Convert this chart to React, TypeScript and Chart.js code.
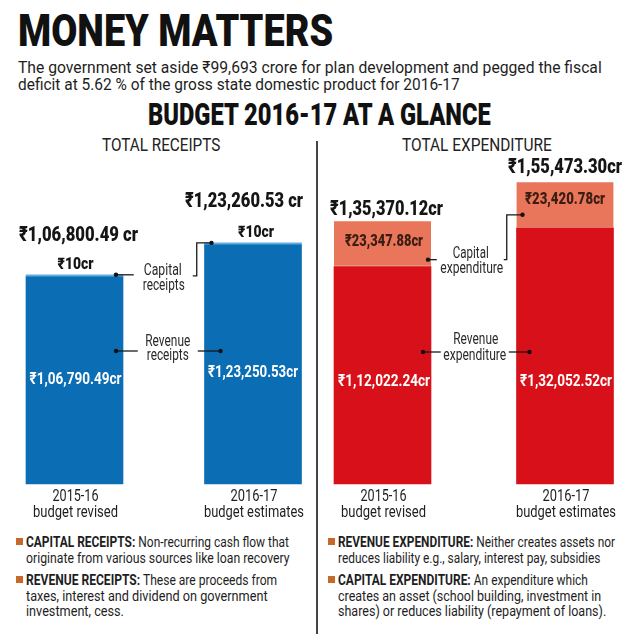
import React, { useEffect, useLayoutEffect, useRef, useState } from 'react';
import { Chart, registerables } from 'chart.js';

Chart.register(...registerables);

// ---------- data ----------
const periodYears = ['2015-16', '2016-17'];
const periodStages = ['budget revised', 'budget estimates'];
const revenueReceipts = [106790.49, 123250.53];
const capitalReceipts = [10, 10];
const revenueExpenditure = [112022.24, 132052.52];
const capitalExpenditure = [23347.88, 23420.78];
const axisMax = 167000;

// ---------- styles ----------
const FONT = 'Roboto, "Noto Sans", "DejaVu Sans", sans-serif';
const BLUE = '#0b6db4';
const LIGHT_BLUE = '#63ace3';
const RED = '#d81019';
const ORANGE = '#e9765a';
const INK = '#151515';
const BULLET = '#c7692b';

function inr(v: number): string {
  const fixed = v.toFixed(2);
  const [intPart, dec] = fixed.split('.');
  const last3 = intPart.slice(-3);
  let rest = intPart.slice(0, -3);
  rest = rest.replace(/\B(?=(\d{2})+(?!\d))/g, ',');
  const s = rest ? rest + ',' + last3 : last3;
  return Math.abs(v - Math.round(v)) < 1e-9 ? s : s + '.' + dec;
}

function drawFit(ctx: CanvasRenderingContext2D, text: string, cx: number, cy: number, w: number, font: string, color: string) {
  ctx.save();
  ctx.font = font;
  const m = ctx.measureText(text).width || 1;
  ctx.translate(cx, cy);
  ctx.scale(w / m, 1);
  ctx.fillStyle = color;
  ctx.textAlign = 'center';
  ctx.textBaseline = 'middle';
  ctx.fillText(text, 0, 0);
  ctx.restore();
}

function poly(ctx: CanvasRenderingContext2D, pts: number[][], dot: number[]) {
  ctx.save();
  ctx.strokeStyle = '#1a1a1a';
  ctx.lineWidth = 1.3;
  ctx.beginPath();
  pts.forEach((p, i) => (i === 0 ? ctx.moveTo(p[0], p[1]) : ctx.lineTo(p[0], p[1])));
  ctx.stroke();
  ctx.fillStyle = '#111';
  ctx.beginPath();
  ctx.arc(dot[0], dot[1], 2.2, 0, Math.PI * 2);
  ctx.fill();
  ctx.restore();
}

function barGeom(chart: any) {
  const lower = chart.getDatasetMeta(0).data as any[];
  const upper = chart.getDatasetMeta(1).data as any[];
  return lower.map((el, i) => {
    const p = el.getProps(['x', 'y', 'base', 'width'], true);
    const q = upper[i].getProps(['x', 'y', 'base', 'width'], true);
    return {
      cx: p.x,
      w: p.width,
      base: p.base,
      mid: p.y,
      top: q.y,
      left: p.x - p.width / 2,
      right: p.x + p.width / 2,
    };
  });
}

function drawAxisLabels(ctx: CanvasRenderingContext2D, b: any[]) {
  const yearW = [46, 47];
  const stageW = [85, 100];
  b.forEach((bar, i) => {
    drawFit(ctx, periodYears[i], bar.cx + 1, bar.base + 13, yearW[i], `17px ${FONT}`, '#1e1e1e');
    drawFit(ctx, periodStages[i], bar.cx + 1, bar.base + 29, stageW[i], `17px ${FONT}`, '#1e1e1e');
  });
}

const BOLD = '900';

const receiptsLabels = {
  id: 'receiptsLabels',
  afterDatasetsDraw(chart: any) {
    const ctx = chart.ctx as CanvasRenderingContext2D;
    const b = barGeom(chart);
    const lowV = chart.data.datasets[0].data as number[];
    const upV = chart.data.datasets[1].data as number[];
    const totDx = [4, -9], totDy = [39, 41], totW = [119, 118];
    const capDx = [1, 3], revDx = [1, 0], revDy = [104, 111], revW = [92, 90];
    b.forEach((bar, i) => {
      drawFit(ctx, '₹' + inr(lowV[i] + upV[i]) + ' cr', bar.cx + totDx[i], bar.top - totDy[i], totW[i], `${BOLD} 21px ${FONT}`, INK);
      drawFit(ctx, '₹' + inr(upV[i]) + 'cr', bar.cx + capDx[i], bar.top - 10, 36, `${BOLD} 16px ${FONT}`, INK);
      drawFit(ctx, '₹' + inr(lowV[i]) + 'cr', bar.cx + revDx[i], bar.base - revDy[i], revW[i], `bold 17px ${FONT}`, '#ffffff');
    });
    drawAxisLabels(ctx, b);
    const mid = (b[0].right + b[1].left) / 2;
    // capital receipts callout
    drawFit(ctx, 'Capital', mid - 1, b[0].top - 4, 38, `16px ${FONT}`, '#2a2a2a');
    drawFit(ctx, 'receipts', mid, b[0].top + 11, 42, `16px ${FONT}`, '#2a2a2a');
    poly(ctx, [[b[0].right - 7, b[0].top], [mid - 30, b[0].top]], [b[0].right - 7, b[0].top]);
    poly(
      ctx,
      [[b[1].left + 7, b[1].top], [mid + 33, b[1].top], [mid + 33, b[0].top + 1], [mid + 29, b[0].top + 1]],
      [b[1].left + 7, b[1].top]
    );
    // revenue receipts callout
    const base = b[0].base;
    drawFit(ctx, 'Revenue', mid + 4, base - 142, 45, `16px ${FONT}`, '#2a2a2a');
    drawFit(ctx, 'receipts', mid + 4, base - 128, 42, `16px ${FONT}`, '#2a2a2a');
    const ly = base - 133;
    poly(ctx, [[b[0].right - 7, ly], [mid - 26, ly]], [b[0].right - 7, ly]);
    poly(ctx, [[mid + 34, ly], [b[1].left + 16, ly]], [b[1].left + 16, ly]);
  },
};

const expenditureLabels = {
  id: 'expenditureLabels',
  afterDatasetsDraw(chart: any) {
    const ctx = chart.ctx as CanvasRenderingContext2D;
    const b = barGeom(chart);
    const lowV = chart.data.datasets[0].data as number[];
    const upV = chart.data.datasets[1].data as number[];
    const totDx = [4, 0], totDy = [12, 15], totW = [113, 114];
    const capDx = [1.5, 0], capDy = [20, 17], capW = [78, 80];
    const revDx = [1.5, 1];
    b.forEach((bar, i) => {
      drawFit(ctx, '₹' + inr(lowV[i] + upV[i]) + 'cr', bar.cx + totDx[i], bar.top - totDy[i], totW[i], `${BOLD} 21px ${FONT}`, INK);
      drawFit(ctx, '₹' + inr(upV[i]) + 'cr', bar.cx + capDx[i], bar.top + capDy[i], capW[i], `${BOLD} 17px ${FONT}`, '#3b1d12');
      drawFit(ctx, '₹' + inr(lowV[i]) + 'cr', bar.cx + revDx[i], bar.base - 102, 92, `bold 17px ${FONT}`, '#ffffff');
    });
    drawAxisLabels(ctx, b);
    const mid = (b[0].right + b[1].left) / 2;
    // capital expenditure callout
    drawFit(ctx, 'Capital', mid - 3, b[0].mid - 13, 36, `16px ${FONT}`, '#2a2a2a');
    drawFit(ctx, 'expenditure', mid - 2, b[0].mid + 2, 63, `16px ${FONT}`, '#2a2a2a');
    const y0 = b[0].mid - 7;
    const y1 = b[1].mid - 13;
    poly(ctx, [[b[0].right - 3, y0], [mid - 37, y0]], [b[0].right - 3, y0]);
    poly(ctx, [[b[1].left + 6, y1], [mid + 33, y1], [mid + 33, y0], [mid + 30, y0]], [b[1].left + 6, y1]);
    // revenue expenditure callout
    const base = b[0].base;
    drawFit(ctx, 'Revenue', mid + 2, base - 144, 45, `16px ${FONT}`, '#2a2a2a');
    drawFit(ctx, 'expenditure', mid + 1, base - 128, 63, `16px ${FONT}`, '#2a2a2a');
    const ly = base - 132;
    poly(ctx, [[b[0].right - 8, ly], [mid - 33, ly]], [b[0].right - 8, ly]);
    poly(ctx, [[mid + 35, ly], [b[1].left + 13, ly]], [b[1].left + 13, ly]);
  },
};

function makeConfig(
  lower: number[],
  upper: number[],
  lowerColor: string,
  upperColor: string,
  lowerName: string,
  upperName: string,
  padding: { left: number; right: number; top: number; bottom: number },
  plugin: any,
  upperExtra: any
): any {
  return {
    type: 'bar',
    data: {
      labels: periodYears,
      datasets: [
        {
          label: lowerName,
          data: lower,
          backgroundColor: lowerColor,
          barThickness: 97,
          borderWidth: 0,
          clip: false,
        },
        {
          label: upperName,
          data: upper,
          backgroundColor: upperColor,
          barThickness: 97,
          clip: false,
          ...upperExtra,
        },
      ],
    },
    options: {
      responsive: false,
      maintainAspectRatio: false,
      animation: false,
      devicePixelRatio: 1,
      layout: { padding },
      scales: {
        x: { display: false, offset: false, stacked: true, grid: { display: false } },
        y: { display: false, stacked: true, min: 0, max: axisMax, grid: { display: false } },
      },
      plugins: { legend: { display: false }, tooltip: { enabled: false } },
    },
    plugins: [plugin],
  };
}

function Fit(props: {
  x: number;
  cy: number;
  w: number;
  size: number;
  weight?: number;
  color?: string;
  center?: boolean;
  children: React.ReactNode;
}) {
  const { x, cy, w, size, weight = 400, color = '#222', center = false, children } = props;
  const ref = useRef<HTMLSpanElement>(null);
  const [s, setS] = useState(1);
  useLayoutEffect(() => {
    const measure = () => {
      if (ref.current) {
        const nw = ref.current.offsetWidth;
        if (nw > 0) setS(w / nw);
      }
    };
    measure();
    if ((document as any).fonts && (document as any).fonts.ready) {
      (document as any).fonts.ready.then(measure);
    }
  }, [w]);
  const left = center ? x - w / 2 : x;
  return (
    <div
      style={{
        position: 'absolute',
        left,
        top: cy - size * 0.5,
        whiteSpace: 'nowrap',
        lineHeight: size + 'px',
        height: size,
        fontSize: size,
        fontWeight: weight,
        fontFamily: FONT,
        color,
      }}
    >
      <span
        ref={ref}
        style={{ display: 'inline-block', transform: `scaleX(${s})`, transformOrigin: 'left center' }}
      >
        {children}
      </span>
    </div>
  );
}

function Bullet({ x, cy }: { x: number; cy: number }) {
  return (
    <div style={{ position: 'absolute', left: x, top: cy - 4, width: 7, height: 7, background: BULLET }} />
  );
}

export default function App() {
  const leftRef = useRef<HTMLCanvasElement>(null);
  const rightRef = useRef<HTMLCanvasElement>(null);

  useEffect(() => {
    const c1 = new Chart(
      leftRef.current!,
      makeConfig(
        revenueReceipts,
        capitalReceipts,
        BLUE,
        LIGHT_BLUE,
        'Revenue receipts',
        'Capital receipts',
        { left: 74.5, right: 63, top: 30, bottom: 46 },
        receiptsLabels,
        { minBarLength: 2, borderWidth: 0 }
      )
    );
    const c2 = new Chart(
      rightRef.current!,
      makeConfig(
        revenueExpenditure,
        capitalExpenditure,
        RED,
        ORANGE,
        'Revenue expenditure',
        'Capital expenditure',
        { left: 64.5, right: 75, top: 30, bottom: 46 },
        expenditureLabels,
        {
          borderSkipped: false,
          borderWidth: { top: 0, left: 0, right: 0, bottom: 1.2 },
          borderColor: '#f7d3c7',
        }
      )
    );
    return () => {
      c1.destroy();
      c2.destroy();
    };
  }, []);

  return (
    <div
      style={{
        position: 'absolute',
        left: 0,
        top: 0,
        width: 640,
        height: 634,
        overflow: 'hidden',
        background: '#ffffff',
        fontFamily: FONT,
      }}
    >
      <Fit x={18} cy={31} w={315} size={44} weight={900} color="#111">
        MONEY MATTERS
      </Fit>
      <Fit x={18} cy={67} w={584} size={17} color="#1e1e1e">
        The government set aside ₹99,693 crore for plan development and pegged the fiscal
      </Fit>
      <Fit x={18} cy={84} w={442} size={17} color="#1e1e1e">
        deficit at 5.62 % of the gross state domestic product for 2016-17
      </Fit>
      <Fit x={148} cy={114} w={343} size={31} weight={900} color="#111">
        BUDGET 2016-17 AT A GLANCE
      </Fit>
      <Fit x={161} cy={145} w={118} size={18} color="#222" center>
        TOTAL RECEIPTS
      </Fit>
      <Fit x={477} cy={145} w={150} size={18} color="#222" center>
        TOTAL EXPENDITURE
      </Fit>

      <div style={{ position: 'absolute', left: 316, top: 141, width: 1.6, height: 493, background: '#444' }} />

      <canvas ref={leftRef} width={316} height={400} style={{ position: 'absolute', left: 0, top: 130 }} />
      <canvas ref={rightRef} width={322} height={400} style={{ position: 'absolute', left: 318, top: 130 }} />

      <Bullet x={16} cy={542} />
      <Fit x={26} cy={542} w={263} size={15} color="#1e1e1e">
        <b>CAPITAL RECEIPTS:</b> Non-recurring cash flow that
      </Fit>
      <Fit x={26} cy={558} w={264} size={15} color="#1e1e1e">
        originate from various sources like loan recovery
      </Fit>
      <Bullet x={16} cy={580} />
      <Fit x={26} cy={580} w={251} size={15} color="#1e1e1e">
        <b>REVENUE RECEIPTS:</b> These are proceeds from
      </Fit>
      <Fit x={26} cy={596} w={242} size={15} color="#1e1e1e">
        taxes, interest and dividend on government
      </Fit>
      <Fit x={26} cy={611} w={98} size={15} color="#1e1e1e">
        investment, cess.
      </Fit>

      <Bullet x={328} cy={542} />
      <Fit x={338} cy={542} w={277} size={15} color="#1e1e1e">
        <b>REVENUE EXPENDITURE:</b> Neither creates assets nor
      </Fit>
      <Fit x={338} cy={558} w={262} size={15} color="#1e1e1e">
        reduces liability e.g., salary, interest pay, subsidies
      </Fit>
      <Bullet x={328} cy={580} />
      <Fit x={338} cy={580} w={250} size={15} color="#1e1e1e">
        <b>CAPITAL EXPENDITURE:</b> An expenditure which
      </Fit>
      <Fit x={338} cy={596} w={263} size={15} color="#1e1e1e">
        creates an asset (school building, investment in
      </Fit>
      <Fit x={338} cy={611} w={268} size={15} color="#1e1e1e">
        shares) or reduces liability (repayment of loans).
      </Fit>
    </div>
  );
}
